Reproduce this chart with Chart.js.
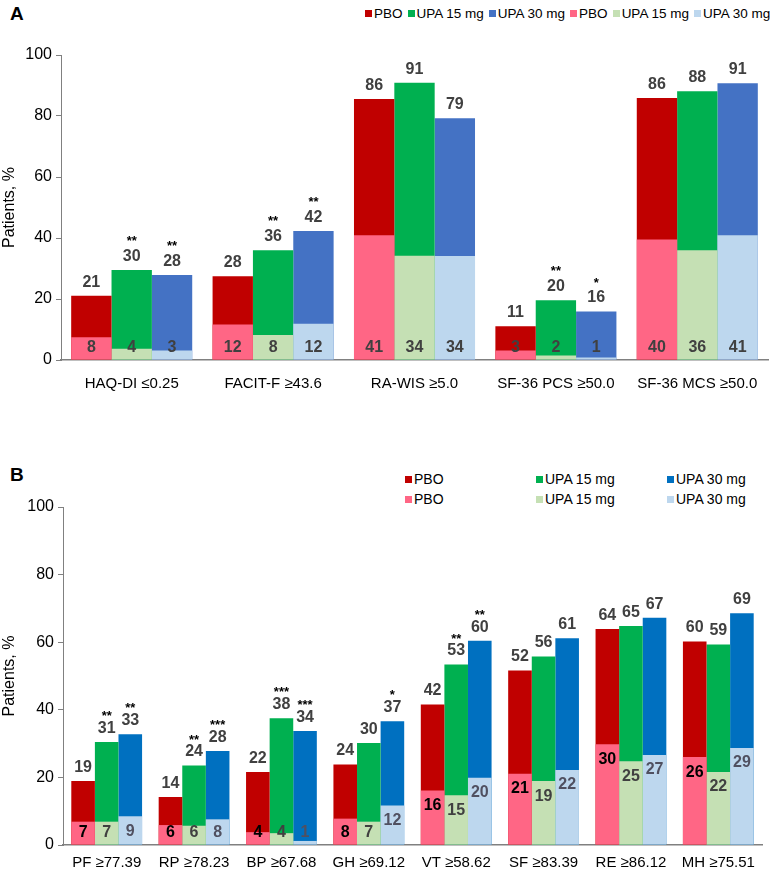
<!DOCTYPE html>
<html>
<head>
<meta charset="utf-8">
<script src="https://cdn.jsdelivr.net/npm/chart.js@4.4.0/dist/chart.umd.min.js"></script>
<style>
    body{margin:0;background:#fff;font-family:"Liberation Sans",Arial,sans-serif;}
    #page{position:relative;width:778px;height:869px;overflow:hidden;}
    .letter{position:absolute;left:10px;font-weight:bold;font-size:19px;color:#000;line-height:1;}
    .cv{position:absolute;left:0;}
    .legend{position:absolute;font-size:14px;color:#000;line-height:1;}
    .legend .item{display:inline-flex;align-items:center;white-space:nowrap;}
    .legend i{display:inline-block;width:7px;height:7px;margin-right:2px;}
    #legendA{white-space:nowrap;font-size:13.5px;}
    #legendA .item{margin-right:5px;}
    #legendB{display:grid;grid-template-columns:131px 131px 110px;row-gap:4px;}
    #legendB .item{height:16px;}
</style>
</head>
<body>
<div id="page">
    <div class="letter" style="top:4px">A</div>
    <div class="legend" id="legendA" style="left:365px;top:6px"></div>
    <canvas id="chartA" class="cv" style="top:0" width="778" height="400"></canvas>

    <div class="letter" style="top:465px">B</div>
    <div class="legend" id="legendB" style="left:405px;top:471px"></div>
    <canvas id="chartB" class="cv" style="top:440px" width="778" height="429"></canvas>
</div>

<script>
// ===== DATA =====
const groups = ["PBO", "UPA 15 mg", "UPA 30 mg"];
const yTicks = [0, 20, 40, 60, 80, 100];

// Panel A
const catsA = ["HAQ-DI ≤0.25", "FACIT-F ≥43.6", "RA-WIS ≥5.0", "SF-36 PCS ≥50.0", "SF-36 MCS ≥50.0"];
const pboA    = [21.1, 27.5, 85.6, 11.1, 85.9];
const upa15A  = [29.5, 36.0, 90.9, 19.6, 88.1];
const upa30A  = [27.9, 42.3, 79.3, 15.9, 90.7];
const pboLowA   = [7.5, 11.6, 40.9, 3.1, 39.5];
const upa15LowA = [3.7, 8.2, 34.2, 1.5, 36.0];
const upa30LowA = [3.1, 11.9, 34.1, 0.8, 40.9];
const starsUpa15A = ["**", "**", "", "**", ""];
const starsUpa30A = ["**", "**", "", "*", ""];

// Panel B
const catsB = ["PF ≥77.39", "RP ≥78.23", "BP ≥67.68", "GH ≥69.12", "VT ≥58.62", "SF ≥83.39", "RE ≥86.12", "MH ≥75.51"];
const pboB    = [18.9, 14.2, 21.6, 23.8, 41.6, 51.6, 63.9, 60.2];
const upa15B  = [30.5, 23.5, 37.5, 30.2, 53.4, 55.8, 64.8, 59.3];
const upa30B  = [32.8, 27.8, 33.7, 36.6, 60.4, 61.2, 67.2, 68.6];
const pboLowB   = [6.9, 5.9, 3.8, 7.8, 16.1, 21.1, 29.8, 26.0];
const upa15LowB = [6.9, 5.7, 3.5, 6.9, 14.7, 18.9, 24.8, 21.6];
const upa30LowB = [8.5, 7.6, 1.2, 11.7, 19.9, 22.2, 26.6, 28.7];
const starsUpa15B = ["**", "**", "***", "", "**", "", "", ""];
const starsUpa30B = ["**", "***", "***", "*", "**", "", "", ""];

// ===== STYLE =====
const FONT = "'Liberation Sans', Arial, sans-serif";
Chart.defaults.font.family = FONT;
Chart.defaults.color = "#000";

const darkA  = ["#C00000", "#00B050", "#4472C4"];
const lightA = ["#FF6685", "#C5E0B4", "#BDD7EE"];
const darkB  = ["#C00000", "#00B050", "#0070C0"];
const lightB = ["#FF6685", "#C5E0B4", "#BDD7EE"];

function legend(el, dark, light){
    const items = [];
    dark.forEach((c,i)=>items.push([c, groups[i]]));
    light.forEach((c,i)=>items.push([c, groups[i]]));
    el.innerHTML = items.map(([c,t])=>`<span class="item"><i style="background:${c}"></i>${t}</span>`).join("");
}
legend(document.getElementById("legendA"), darkA, lightA);
legend(document.getElementById("legendB"), darkB, lightB);

// value labels on bars
const barLabels = {
    id:"barLabels",
    afterDatasetsDraw(chart, args, opts){
        const ctx = chart.ctx;
        const zeroY = chart.scales.y.getPixelForValue(0);
        chart.data.datasets.forEach((ds,i)=>{
            const meta = chart.getDatasetMeta(i);
            meta.data.forEach((bar,j)=>{
                const txt = String(Math.round(ds.data[j]));
                ctx.save();
                ctx.textAlign = "center";
                ctx.textBaseline = "middle";
                ctx.font = "bold 16px " + FONT;
                if(ds.inner){
                    ctx.fillStyle = ds.labelColor;
                    ctx.fillText(txt, bar.x, Math.min(bar.y + opts.innerOffset, zeroY - 12));
                } else {
                    ctx.fillStyle = "#404040";
                    const y = bar.y - 13.5;
                    ctx.fillText(txt, bar.x, y);
                    const s = ds.stars ? ds.stars[j] : "";
                    if(s){
                        ctx.font = "bold 13px " + FONT;
                        ctx.fillStyle = "#000";
                        ctx.fillText(s, bar.x, y - opts.starGap);
                    }
                }
                ctx.restore();
            });
        });
    }
};

function makeChart(id, cats, high, low, stars, dark, light, lowColors, cfg){
    const stacks = ["p", "u15", "u30"];
    const datasets = [];
    low.forEach((d,i)=>datasets.push({
        label:groups[i], data:d, backgroundColor:light[i], stack:stacks[i],
        inner:true, labelColor:lowColors[i]
    }));
    high.forEach((d,i)=>datasets.push({
        label:groups[i], data:d, backgroundColor:dark[i], stack:stacks[i],
        stars:stars[i]
    }));

    return new Chart(document.getElementById(id), {
        type:"bar",
        data:{labels:cats, datasets},
        options:{
            responsive:false,
            animation:false,
            devicePixelRatio:1,
            barPercentage:1,
            categoryPercentage:cfg.catPct,
            layout:{padding:{top:cfg.top, right:cfg.right, left:0, bottom:0}},
            plugins:{
                legend:{display:false},
                tooltip:{enabled:false},
                barLabels:{innerOffset:cfg.innerOffset, starGap:cfg.starGap}
            },
            scales:{
                x:{
                    grid:{display:false, drawTicks:false},
                    border:{display:true, color:"#808080", width:1.5},
                    ticks:{font:{size:15}, color:"#000", padding:cfg.xPad, maxRotation:0, autoSkip:false},
                    afterFit:s=>{ s.height = cfg.xHeight; }
                },
                y:{
                    min:0, max:100, stacked:false,
                    afterBuildTicks:s=>{ s.ticks = yTicks.map(v=>({value:v})); },
                    afterFit:s=>{ s.width = cfg.left; },
                    grid:{drawOnChartArea:false, drawTicks:true, tickLength:5, color:"#808080"},
                    border:{display:true, color:"#808080", width:1},
                    ticks:{font:{size:16}, color:"#000", padding:4},
                    title:{display:true, text:"Patients, %", font:{size:16}, color:"#000", padding:0}
                }
            }
        },
        plugins:[barLabels]
    });
}

makeChart("chartA", catsA,
    [pboA, upa15A, upa30A],
    [pboLowA, upa15LowA, upa30LowA],
    [null, starsUpa15A, starsUpa30A],
    darkA, lightA, ["#404040", "#404040", "#404040"],
    {catPct:0.856, top:55, right:10, left:61, xHeight:40, xPad:15, innerOffset:9999, starGap:15});

makeChart("chartB", catsB,
    [pboB, upa15B, upa30B],
    [pboLowB, upa15LowB, upa30LowB],
    [null, starsUpa15B, starsUpa30B],
    darkB, lightB, ["#000", "#404040", "#505060"],
    {catPct:0.81, top:67, right:16, left:63, xHeight:24, xPad:9, innerOffset:15, starGap:12});
</script>
</body>
</html>
